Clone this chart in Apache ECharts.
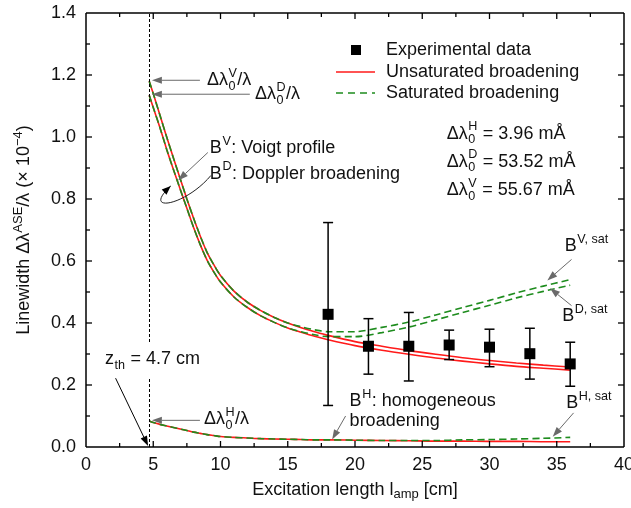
<!DOCTYPE html>
<html><head><meta charset="utf-8">
<script src="https://cdn.jsdelivr.net/npm/echarts@6/dist/echarts.min.js"></script>
<style>html,body{margin:0;padding:0;background:#fff}#c{width:631px;height:508px}</style>
</head><body><div id="c"></div>
<script>
// ---- data ----
const lengthGrid = [4.7,5,5.5,6,6.5,7,7.5,8,8.5,9,9.5,10,11,12,13,14,15,16,17,18,20,22,24,26,28,30,32,34,36];
const voigtUnsat = [1.18,1.14,1.07,1.00,0.932,0.866,0.80,0.738,0.68,0.628,0.588,0.553,0.503,0.467,0.44,0.418,0.40,0.385,0.372,0.36,0.34,0.325,0.311,0.299,0.288,0.279,0.271,0.264,0.258];
const dopplerUnsat = [1.135,1.095,1.03,0.96,0.895,0.832,0.77,0.708,0.652,0.603,0.565,0.532,0.484,0.45,0.423,0.402,0.384,0.37,0.357,0.346,0.327,0.312,0.299,0.287,0.277,0.268,0.26,0.254,0.248];
const homogUnsat = [0.084,0.079,0.073,0.068,0.063,0.058,0.053,0.048,0.044,0.04,0.037,0.034,0.031,0.029,0.027,0.026,0.025,0.024,0.023,0.023,0.022,0.021,0.02,0.019,0.019,0.018,0.018,0.017,0.017];
const voigtSat = [1.18,1.14,1.07,1.00,0.932,0.866,0.80,0.738,0.68,0.628,0.588,0.553,0.503,0.467,0.44,0.418,0.40,0.388,0.378,0.372,0.372,0.386,0.403,0.426,0.45,0.473,0.497,0.519,0.54];
const dopplerSat = [1.135,1.095,1.03,0.96,0.895,0.832,0.77,0.708,0.652,0.603,0.565,0.532,0.484,0.45,0.423,0.402,0.384,0.372,0.362,0.356,0.356,0.369,0.387,0.41,0.434,0.457,0.481,0.502,0.522];
const homogSat = [0.084,0.079,0.073,0.068,0.063,0.058,0.053,0.048,0.044,0.04,0.037,0.034,0.031,0.029,0.027,0.026,0.025,0.024,0.023,0.023,0.022,0.021,0.021,0.021,0.023,0.024,0.026,0.028,0.031];
const expLength = [18,21,24,27,30,33,36];
const expWidth = [0.428,0.325,0.325,0.329,0.322,0.301,0.268];
const expLow = [0.134,0.235,0.213,0.282,0.259,0.219,0.196];
const expHigh = [0.724,0.414,0.434,0.377,0.380,0.383,0.338];
const zThreshold = 4.7;
const legendNames = ['Experimental data','Unsaturated broadening','Saturated broadening'];
const xRange = [0, 40], xStep = 5;
const yRange = [0, 1.4], yStep = 0.2;

const FONT = '"Liberation Sans", Arial, sans-serif';
const TXT = '#111';
const RED = '#ff1a1a';
const GREEN = '#1e8c1e';
const GRAY = '#6a6a6a';

const pairs = (xs, ys) => xs.map((x, i) => [x, ys[i]]);
const chart = echarts.init(document.getElementById('c'), null, {renderer: 'canvas'});

// ---- drawing helpers for frame / annotations ----
const mctx = document.createElement('canvas').getContext('2d');
const tw = (t, s) => { mctx.font = s + 'px ' + FONT; return mctx.measureText(t).width; };
function txt(t, x, y, size) {
  return {type: 'text', x, y, silent: true,
    style: {text: t, font: size + 'px ' + FONT, fill: TXT, align: 'left', verticalAlign: 'middle',
      textAlign: 'left', textVerticalAlign: 'middle'}};
}
function comp(parts, x, y, size) {
  const small = size * 0.7;
  const out = [];
  let cx = x;
  for (const p of parts) {
    if (typeof p === 'string') { out.push(txt(p, cx, y, size)); cx += tw(p, size); }
    else {
      let w = 0;
      if (p.sup) { out.push(txt(p.sup, cx + 0.5, y - size * 0.38, small)); w = Math.max(w, tw(p.sup, small)); }
      if (p.sub) { out.push(txt(p.sub, cx + 0.5, y + size * 0.33, small)); w = Math.max(w, tw(p.sub, small)); }
      cx += w + 1;
    }
  }
  return {els: out, width: cx - x};
}
function seg(x1, y1, x2, y2, color, lw, dash) {
  const st = {stroke: color, lineWidth: lw};
  if (dash) st.lineDash = dash;
  return {type: 'line', silent: true, shape: {x1, y1, x2, y2}, style: st};
}
function arrow(a, b, color, lw, hl, hw) {
  const ang = Math.atan2(b[1] - a[1], b[0] - a[0]);
  const bx = b[0] - hl * Math.cos(ang), by = b[1] - hl * Math.sin(ang);
  const nx = -Math.sin(ang) * hw, ny = Math.cos(ang) * hw;
  const res = [{type: 'polygon', silent: true, shape: {points: [[b[0], b[1]], [bx + nx, by + ny], [bx - nx, by - ny]]}, style: {fill: color}}];
  if (lw > 0) res.push(seg(a[0], a[1], bx, by, color, lw));
  return res;
}

function renderFrame(params, api) {
  const C = (x, y) => api.coord([x, y]);
  const bl = C(xRange[0], yRange[0]), tr = C(xRange[1], yRange[1]);
  const L = bl[0], B = bl[1], R = tr[0], T = tr[1];
  const ch = [
    seg(L, B, R, B, '#000', 1.5), seg(L, T, R, T, '#000', 1.5),
    seg(L, B, L, T, '#000', 1.5), seg(R, B, R, T, '#000', 1.5)
  ];
  const nx = Math.round((xRange[1] - xRange[0]) / xStep * 2);
  for (let k = 1; k < nx; k++) {
    const v = xRange[0] + k * xStep / 2, len = k % 2 === 0 ? 6 : 4, px = C(v, yRange[0])[0];
    ch.push(seg(px, B, px, B - len, '#000', 1.3), seg(px, T, px, T + len, '#000', 1.3));
  }
  const ny = Math.round((yRange[1] - yRange[0]) / yStep * 2);
  for (let k = 1; k < ny; k++) {
    const v = yRange[0] + k * yStep / 2, len = k % 2 === 0 ? 6 : 4, py = C(xRange[0], v)[1];
    ch.push(seg(L, py, L + len, py, '#000', 1.3), seg(R, py, R - len, py, '#000', 1.3));
  }
  return {type: 'group', children: ch};
}

function renderNotes(params, api) {
  const P = (x, y) => api.coord([x, y]);
  const F = 18;
  let g = [];
  const at = (parts, x, y) => { const p = P(x, y); const c = comp(parts, p[0], p[1], F); g = g.concat(c.els); return c; };

  at(['Δλ', {sup: 'V', sub: '0'}, '/λ'], 8.99, 1.183);
  g = g.concat(arrow(P(8.47, 1.183), P(4.9, 1.183), GRAY, 1, 10, 3.5));
  at(['Δλ', {sup: 'D', sub: '0'}, '/λ'], 12.56, 1.138);
  g = g.concat(arrow(P(12.18, 1.138), P(4.9, 1.138), GRAY, 1, 10, 3.5));

  at(['B', {sup: 'V'}, ': Voigt profile'], 9.21, 0.963);
  at(['B', {sup: 'D'}, ': Doppler broadening'], 9.21, 0.882);
  g = g.concat(arrow(P(9.06, 0.95), P(6.85, 0.86), GRAY, 1, 10, 3.5));
  {
    const p0 = P(9.29, 0.876), p3 = P(6.3, 0.842);
    const c1 = [p0[0] - 26, p0[1] + 31], c2 = [p0[0] - 70, p0[1] + 38];
    g.push({type: 'bezierCurve', silent: true,
      shape: {x1: p0[0], y1: p0[1], cpx1: c1[0], cpy1: c1[1], cpx2: c2[0], cpy2: c2[1], x2: p3[0], y2: p3[1]},
      style: {stroke: '#222', lineWidth: 1, fill: 'none'}});
    g = g.concat(arrow(c2, p3, '#000', 0, 9, 3.5));
  }
  {
    const p = P(1.41, 0.283);
    const c = comp(['z', {sub: 'th'}, ' = 4.7 cm'], p[0], p[1], F);
    g.push({type: 'rect', silent: true, shape: {x: p[0] - 2, y: p[1] - 16, width: c.width + 4, height: 34}, style: {fill: '#fff'}});
    g = g.concat(c.els);
    g = g.concat(arrow(P(2.2, 0.222), P(4.62, 0.003), '#000', 1, 10, 3.5));
  }
  at(['Δλ', {sup: 'H', sub: '0'}, '/λ'], 8.77, 0.089);
  g = g.concat(arrow(P(8.47, 0.086), P(4.9, 0.086), GRAY, 1, 10, 3.5));

  at(['B', {sup: 'H'}, ': homogeneous'], 19.6, 0.147);
  at(['broadening'], 19.6, 0.083);
  g = g.concat(arrow(P(19.3, 0.1), P(18.3, 0.024), GRAY, 1, 10, 3.5));

  at(['B', {sup: 'H, sat'}], 35.7, 0.141);
  g = g.concat(arrow(P(36.25, 0.11), P(34.7, 0.033), GRAY, 1, 10, 3.5));
  at(['B', {sup: 'V, sat'}], 35.6, 0.647);
  g = g.concat(arrow(P(36.1, 0.605), P(34.3, 0.537), GRAY, 1, 10, 3.5));
  at(['B', {sup: 'D, sat'}], 35.4, 0.422);
  g = g.concat(arrow(P(36.1, 0.456), P(34.5, 0.512), GRAY, 1, 10, 3.5));

  at(['Δλ', {sup: 'H', sub: '0'}, ' = 3.96 mÅ'], 26.82, 1.011);
  at(['Δλ', {sup: 'D', sub: '0'}, ' = 53.52 mÅ'], 26.82, 0.92);
  at(['Δλ', {sup: 'V', sub: '0'}, ' = 55.67 mÅ'], 26.82, 0.828);

  // legend block (top right)
  {
    const lx = 386, rows = [50, 72, 93];
    g.push({type: 'rect', silent: true, shape: {x: 351, y: rows[0] - 5, width: 10, height: 10}, style: {fill: '#000'}});
    g.push(seg(336, rows[1], 375, rows[1], RED, 1.7));
    g.push(seg(336, rows[2], 375, rows[2], GREEN, 1.7, [7, 5]));
    legendNames.forEach((n, i) => g.push(txt(n, lx, rows[i], F)));
  }
  return {type: 'group', children: g};
}

const lineSeries = (name, ys, color, dashed) => ({
  type: 'line', name, data: pairs(lengthGrid, ys), showSymbol: false, symbol: 'none',
  smooth: 0.3, z: dashed ? 4 : 3,
  lineStyle: {color, width: 1.6, type: dashed ? [7, 4] : 'solid'},
  itemStyle: {color}, animation: false
});
const noAxisDeco = {axisLine: {show: false}, axisTick: {show: false}, minorTick: {show: false}, splitLine: {show: false}};

chart.setOption({
  animation: false,
  backgroundColor: '#fff',
  grid: {left: 86, right: 7, top: 13, bottom: 61, outerBoundsMode: 'none'},
  xAxis: Object.assign({type: 'value', min: xRange[0], max: xRange[1], interval: xStep,
    axisLabel: {fontSize: 18, color: TXT, fontFamily: FONT, margin: 9},
    name: '{a|Excitation length l}{s|amp}{a| [cm]}', nameLocation: 'middle', nameGap: 32,
    nameTextStyle: {fontFamily: FONT, color: TXT, fontSize: 18, rich: {
      a: {fontSize: 18, fontFamily: FONT, color: TXT},
      s: {fontSize: 13, fontFamily: FONT, color: TXT, padding: [9, 0, 0, 0]}}}
  }, noAxisDeco),
  yAxis: Object.assign({type: 'value', min: yRange[0], max: yRange[1], interval: yStep,
    axisLabel: {fontSize: 18, color: TXT, fontFamily: FONT, margin: 10, formatter: v => v.toFixed(1)},
    name: '{a|Linewidth Δλ}{s|ASE}{a|/λ (× 10}{s|−4}{a|)}', nameLocation: 'middle', nameGap: 50, nameRotate: 90,
    nameTextStyle: {fontFamily: FONT, color: TXT, fontSize: 18, rich: {
      a: {fontSize: 18, fontFamily: FONT, color: TXT},
      s: {fontSize: 13, fontFamily: FONT, color: TXT, padding: [0, 0, 11, 0]}}}
  }, noAxisDeco),
  series: [
    Object.assign(lineSeries(legendNames[1], voigtUnsat, RED, false), {
      markLine: {silent: true, symbol: ['none', 'none'], label: {show: false},
        lineStyle: {color: '#000', width: 1, type: [3, 2]}, data: [{xAxis: zThreshold}]}
    }),
    lineSeries(legendNames[1], dopplerUnsat, RED, false),
    lineSeries(legendNames[1], homogUnsat, RED, false),
    lineSeries(legendNames[2], voigtSat, GREEN, true),
    lineSeries(legendNames[2], dopplerSat, GREEN, true),
    lineSeries(legendNames[2], homogSat, GREEN, true),
    {
      type: 'custom', name: 'error', z: 5, clip: false,
      data: expLength.map((x, i) => [x, expLow[i], expHigh[i]]),
      renderItem: (params, api) => {
        const lo = api.coord([api.value(0), api.value(1)]);
        const hi = api.coord([api.value(0), api.value(2)]);
        const cap = 5;
        const st = {stroke: '#000', lineWidth: 1.5};
        return {type: 'group', children: [
          {type: 'line', shape: {x1: lo[0], y1: lo[1], x2: hi[0], y2: hi[1]}, style: st},
          {type: 'line', shape: {x1: lo[0] - cap, y1: lo[1], x2: lo[0] + cap, y2: lo[1]}, style: st},
          {type: 'line', shape: {x1: hi[0] - cap, y1: hi[1], x2: hi[0] + cap, y2: hi[1]}, style: st}
        ]};
      }
    },
    {type: 'scatter', name: legendNames[0], data: pairs(expLength, expWidth), symbol: 'rect',
      symbolSize: 11, itemStyle: {color: '#000', opacity: 1}, z: 6},
    {type: 'custom', name: 'notes', z: 10, clip: false, silent: true, data: [[xRange[0], yRange[0]]], renderItem: renderNotes},
    {type: 'custom', name: 'frame', z: 20, clip: false, silent: true, data: [[xRange[0], yRange[0]]], renderItem: renderFrame}
  ]
});
</script>
</body></html>
